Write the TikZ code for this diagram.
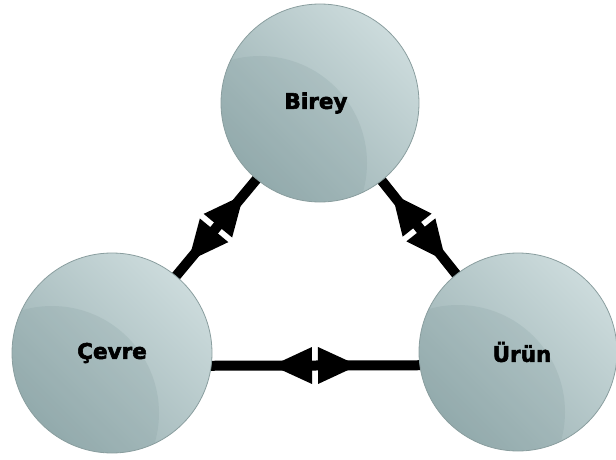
\documentclass[tikz,border=0pt]{standalone}
\usepackage{fontspec}
\newfontfamily\lblfont{DejaVu Sans}[FakeBold=2.6]
\usetikzlibrary{calc}
\pgfdeclarelayer{bg}
\pgfsetlayers{bg,main}
\definecolor{balllight}{HTML}{CCDBDC}
\definecolor{balldark}{HTML}{98AFB1}
\definecolor{ballshade}{HTML}{7F999B}
\definecolor{ballrim}{HTML}{8A9E9F}
\newcommand\twoheads[3]{% A, B, M
  \fill[headfill] ($(#3)!3pt!(#1)$) -- ($($(#3)!3pt!(#1)$)!18.5pt!90:(#1)$)
     -- ($(#3)!43pt!(#1)$) -- ($($(#3)!3pt!(#1)$)!18.5pt!-90:(#1)$) -- cycle;
  \fill[headfill] ($(#3)!3pt!(#2)$) -- ($($(#3)!3pt!(#2)$)!18.5pt!90:(#2)$)
     -- ($(#3)!43pt!(#2)$) -- ($($(#3)!3pt!(#2)$)!18.5pt!-90:(#2)$) -- cycle;
}
\begin{document}
\begin{tikzpicture}[x=1pt,y=-1pt,
  ball/.style={circle, minimum size=198pt, inner sep=0pt, draw=ballrim, line width=0.8pt,
    top color=balllight, bottom color=balldark, shading angle=-45,
    path picture={\fill[ballshade, opacity=0.2]
      ($(path picture bounding box.center)+(-60pt,-60pt)$) circle (107pt);},
    font=\lblfont\bfseries\fontsize{21.5}{25}\selectfont, text=black},
  link/.style={line width=10pt, black},
  headfill/.style={fill=black}]
\useasboundingbox (0,0) rectangle (616,460);
\node[ball] (birey) at (320,103) {\hspace*{-8pt}Birey};
\node[ball, minimum size=200pt] (cevre) at (112,353) {Çevre};
\node[ball] (urun) at (518,352) {Ürün\hspace*{-8pt}};
\coordinate (cl) at ($(cevre.center)+(0,13)$);
\coordinate (ur) at ($(urun.center)+(0,13)$);
\coordinate (m1) at ($(cevre.center)!0.5!(birey.center)$);
\coordinate (m2) at ($(birey.center)!0.5!(urun.center)$);
\coordinate (m3) at ($(cl)!0.5!(ur)$);
\begin{pgfonlayer}{bg}
\draw[link] (cevre.center) -- (birey.center);
\draw[link] (birey.center) -- (urun.center);
\draw[link] (cl) -- (ur);
\end{pgfonlayer}
\twoheads{cevre.center}{birey.center}{m1}
\twoheads{birey.center}{urun.center}{m2}
\twoheads{cl}{ur}{m3}
\end{tikzpicture}
\end{document}
